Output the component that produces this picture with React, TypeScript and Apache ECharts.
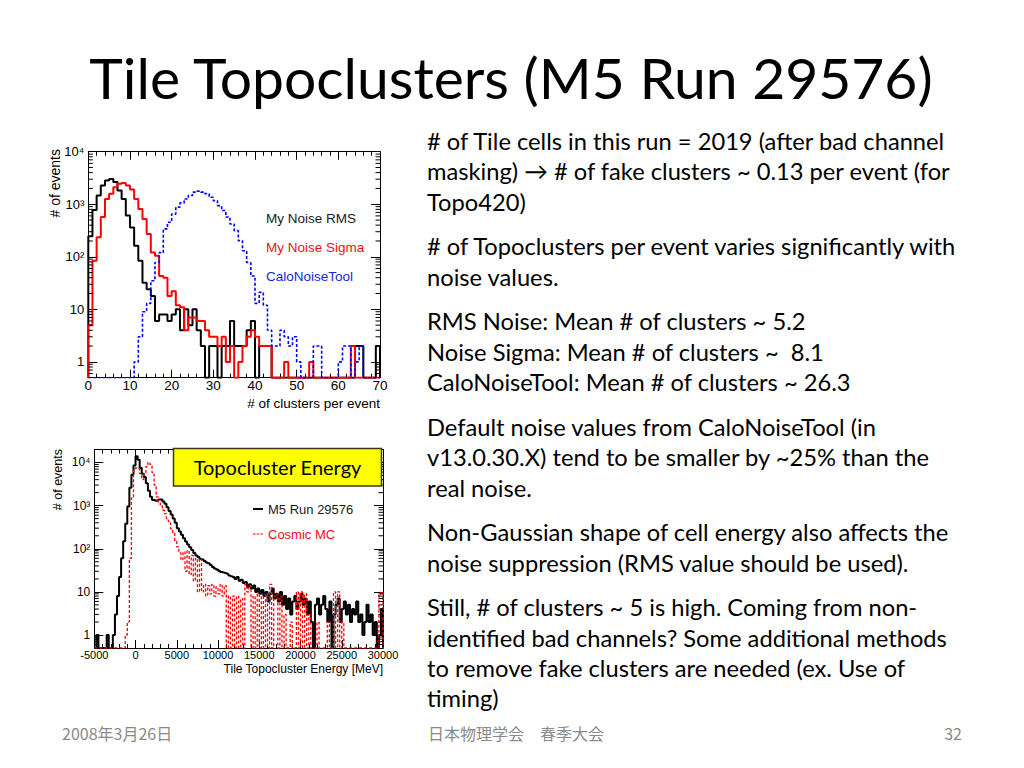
import React, { useEffect, useRef } from "react";
import * as echarts from "echarts";

// ---------- Chart 1: # of clusters per event (bins of width 1 from 0 to 70) ----------
const CLUSTER_BIN_START = 0;
const CLUSTER_BIN_WIDTH = 1;
const RMS_COUNTS = [
  245, 780, 1470, 2280, 2830, 3030, 2640, 1820, 1260, 610,
  360, 162, 84, 32, 24, 18, 6, 8, 8, 6,
  8, 10, 4, 10, 5, 10, 4, 2, 0, 2,
  2, 0, 2, 2, 6, 2, 2, 2, 4, 6,
  0, 2, 2, 2, 0, 0, 0, 0, 0, 0,
  0, 0, 0, 0, 0, 0, 0, 0, 0, 0,
  0, 0, 0, 0, 2, 2, 0, 0, 0, 2,
];
const SIGMA_COUNTS = [
  5, 84, 235, 570, 1260, 1580, 2100, 2450, 2550, 2280,
  1900, 1260, 815, 525, 270, 121, 105, 43, 40, 18,
  22, 12, 11, 4, 7, 7, 6, 6, 4, 3,
  3, 2, 3, 1, 2, 0, 1, 2, 3, 4,
  3, 2, 2, 2, 0, 0, 0, 1, 0, 0,
  0, 0, 0, 1, 0, 0, 0, 0, 0, 0,
  0, 0, 0, 2, 0, 0, 0, 0, 0, 0,
];
const CALO_COUNTS = [
  0, 0, 0, 0, 0, 0, 0, 0, 0, 0,
  0, 1, 3, 9, 13, 35, 78, 120, 340, 455,
  650, 880, 1060, 1260, 1470, 1700, 1780, 1700, 1590, 1360,
  1170, 940, 760, 570, 420, 315, 203, 130, 78, 43,
  13, 21, 12, 4, 2, 2, 4, 3, 2, 3,
  1, 0, 0, 0, 2, 2, 0, 0, 0, 0,
  1, 2, 2, 0, 1, 2, 0, 0, 0, 0,
];
const CLUSTER_SERIES_NAMES = ["My Noise RMS", "My Noise Sigma", "CaloNoiseTool"];

// ---------- Chart 2: Tile Topocluster Energy (bins of 250 MeV from -5000 to 30000) ----------
const ENERGY_BIN_START = -5000;
const ENERGY_BIN_WIDTH = 250;
const M5_COUNTS = [
  0, 1, 0, 0, 0, 0, 1, 0, 0, 1,
  3, 8, 22, 60, 150, 380, 950, 2600, 5200, 8500,
  14000, 11500, 7500, 5500, 4600, 3300, 2200, 1600, 1350, 1300,
  1320, 1380, 1380, 1250, 1100, 920, 750, 620, 500, 400,
  300, 250, 210, 175, 148, 126, 108, 93, 80, 70,
  64, 58, 56, 52, 48, 46, 42, 38, 35, 33,
  31, 29, 28, 27, 26, 24, 23, 22, 20, 22,
  18, 19, 16, 17, 13, 15, 12, 14, 10, 12,
  9, 11, 8, 10, 6, 9, 12, 7, 9, 6,
  10, 5, 8, 4, 7, 3, 6, 8, 4, 6,
  9, 5, 7, 3, 6, 2, 0, 5, 7, 3,
  5, 8, 4, 2, 6, 0, 3, 5, 7, 2,
  4, 6, 3, 5, 2, 4, 3, 6, 2, 3,
  1, 2, 5, 2, 3, 1, 2, 0, 1, 4,
];
const MC_COUNTS = [
  0, 0, 0, 0, 0, 0, 0, 0, 0, 0,
  0, 0, 0, 0, 0, 1, 2, 60, 1500, 6500,
  7500, 7200, 5500, 4000, 5500, 8000, 10000, 9000, 5800, 3000,
  1600, 1150, 1000, 780, 650, 460, 400, 290, 230, 150,
  110, 80, 55, 85, 30, 90, 25, 70, 18, 60,
  10, 60, 10, 15, 8, 14, 9, 15, 8, 13,
  9, 15, 8, 14, 0, 8, 0, 8, 0, 8,
  0, 7, 0, 15, 10, 14, 0, 8, 0, 9,
  0, 8, 0, 9, 0, 15, 0, 8, 9, 0,
  8, 0, 3, 0, 0, 2, 0, 0, 10, 0,
  10, 0, 9, 0, 3, 0, 0, 0, 2, 0,
  0, 0, 0, 2, 0, 0, 10, 0, 10, 0,
  2, 0, 0, 0, 0, 0, 0, 0, 0, 0,
  0, 0, 0, 0, 0, 0, 0, 0, 9, 10,
];
const ENERGY_SERIES_NAMES = ["M5 Run 29576", "Cosmic MC"];

// ---------- Slide texts ----------
const TITLE = "Tile Topoclusters (M5 Run 29576)";
const BODY_PARAGRAPHS = [
  ["# of Tile cells in this run = 2019 (after bad channel", "masking) \u2192 # of fake clusters ~ 0.13 per event (for", "Topo420)"],
  ["# of Topoclusters per event varies significantly with", "noise values."],
  ["RMS Noise: Mean # of clusters ~ 5.2", "Noise Sigma: Mean # of clusters ~  8.1", "CaloNoiseTool: Mean # of clusters ~ 26.3"],
  ["Default noise values from CaloNoiseTool (in", "v13.0.30.X) tend to be smaller by ~25% than the", "real noise."],
  ["Non-Gaussian shape of cell energy also affects the", "noise suppression (RMS value should be used)."],
  ["Still, # of clusters ~ 5 is high. Coming from non-", "identified bad channels? Some additional methods", "to remove fake clusters are needed (ex. Use of", "timing)"],
];
const FOOTER_DATE = "2008年3月26日";
const FOOTER_CENTER = "日本物理学会\u3000春季大会";
const FOOTER_PAGE = "32";
const BOX_LABEL = "Topocluster Energy";
const Y_TITLE = "# of events";
const X_TITLE_1 = "# of clusters per event";
const X_TITLE_2 = "Tile Topocluster Energy [MeV]";

const AX_FONT = "Liberation Sans";
const SLIDE_FONT = "Lato";
const CJK_FONT = "'Noto Sans CJK JP'";

function stepData(start: number, width: number, counts: number[], floor: number) {
  const pts: number[][] = [[start, floor]];
  counts.forEach((c, i) => pts.push([start + i * width, c > 0 ? c : floor]));
  const end = start + counts.length * width;
  const last = counts[counts.length - 1];
  pts.push([end, last > 0 ? last : floor]);
  pts.push([end, floor]);
  return pts;
}

const SUP: Record<string, string> = { "2": "\u00b2", "3": "\u00b3", "4": "\u2074", "5": "\u2075" };
function logLabel(v: number) {
  const k = Math.log10(v);
  const r = Math.round(k);
  if (Math.abs(k - r) > 1e-6 || r < 0) return "";
  if (r === 0) return "1";
  if (r === 1) return "10";
  return "10" + SUP[String(r)];
}

function logMinorValues(min: number, max: number) {
  const out: number[] = [];
  for (let k = -2; k <= 6; k++) {
    for (let m = 2; m <= 9; m++) {
      const v = m * Math.pow(10, k);
      if (v > min * 1.0001 && v < max * 0.9999) out.push(v);
    }
  }
  return out;
}

function xAxisDef(gridIndex: number, min: number, max: number, interval: number, pos: string, fontSize: number) {
  return {
    type: "value",
    gridIndex,
    position: pos,
    min,
    max,
    interval,
    axisLine: { show: true, onZero: false, lineStyle: { color: "#000", width: 1 } },
    axisTick: { show: true, inside: true, length: 8, lineStyle: { color: "#000", width: 1 } },
    minorTick: { show: true, splitNumber: 5, length: 4, lineStyle: { color: "#000", width: 1 } },
    splitLine: { show: false },
    minorSplitLine: { show: false },
    axisLabel: {
      show: pos === "bottom",
      color: "#000",
      fontFamily: AX_FONT,
      fontSize,
      margin: 1,
      showMinLabel: true,
      showMaxLabel: true,
      formatter: (v: number) => String(v),
    },
  };
}

function yAxisDef(gridIndex: number, min: number, max: number, pos: string, fontSize: number) {
  return {
    type: "log",
    logBase: 10,
    gridIndex,
    position: pos,
    min,
    max,
    axisLine: { show: true, onZero: false, lineStyle: { color: "#000", width: 1 } },
    axisTick: { show: true, inside: true, length: 9, lineStyle: { color: "#000", width: 1 } },
    minorTick: { show: false },
    splitLine: { show: false },
    axisLabel: {
      show: pos === "left",
      color: "#000",
      fontFamily: AX_FONT,
      fontSize,
      margin: 4,
      formatter: logLabel,
    },
  };
}

function minorTickSeries(xIdx: number, yIdx: number, xMin: number, yMin: number, yMax: number) {
  return {
    type: "custom",
    xAxisIndex: xIdx,
    yAxisIndex: yIdx,
    silent: true,
    clip: false,
    z: 5,
    data: logMinorValues(yMin, yMax).map((v) => [xMin, v]),
    renderItem: (params: any, api: any) => {
      const y = api.coord([api.value(0), api.value(1)])[1];
      const cs = params.coordSys;
      const st = { stroke: "#000", lineWidth: 1 };
      return {
        type: "group",
        children: [
          { type: "line", shape: { x1: cs.x, y1: y, x2: cs.x + 4.5, y2: y }, style: st },
          { type: "line", shape: { x1: cs.x + cs.width - 4.5, y1: y, x2: cs.x + cs.width, y2: y }, style: st },
        ],
      };
    },
  };
}

function txt(text: string, x: number, y: number, font: string, fill: string, align = "left", extra: any = {}) {
  return {
    type: "text",
    x,
    y,
    z: 50,
    ...extra,
    style: {
      text,
      font,
      fill,
      textAlign: align,
      align,
      textVerticalAlign: "middle",
      verticalAlign: "middle",
    },
  };
}

const DASH_ICON = "path://M0,0h2.6v1h-2.6zM3.7,0h2.6v1h-2.6zM7.4,0h2.6v1h-2.6z";

function buildOption() {
  const Y1_MIN = 0.5, Y1_MAX = 10000;
  const Y2_MIN = 0.5, Y2_MAX = 20000;

  const graphics: any[] = [];
  graphics.push(txt(TITLE, 511, 77, `57px ${SLIDE_FONT}`, "#000", "center"));

  const bodySize = 23.7;
  const lineGap = 30.4;
  const paraGap = 14.2;
  let base = 148.8;
  BODY_PARAGRAPHS.forEach((para, pi) => {
    if (pi > 0) base += paraGap;
    para.forEach((line) => {
      graphics.push(txt(line, 427, base - bodySize * 0.33, `${bodySize}px ${SLIDE_FONT}`, "#000", "left"));
      base += lineGap;
    });
  });

  graphics.push(txt(FOOTER_DATE, 62, 733, `16px ${CJK_FONT}`, "#8a8a8a", "left"));
  graphics.push(txt(FOOTER_CENTER, 516, 733, `16px ${CJK_FONT}`, "#8a8a8a", "center"));
  graphics.push(txt(FOOTER_PAGE, 962, 733, `16px ${CJK_FONT}`, "#8a8a8a", "right"));

  // axis titles (ROOT style: right / top aligned)
  graphics.push(txt(Y_TITLE, 55, 149, `14px ${AX_FONT}`, "#000", "right", { rotation: Math.PI / 2 }));
  graphics.push(txt(Y_TITLE, 58, 449, `12.5px ${AX_FONT}`, "#000", "right", { rotation: Math.PI / 2 }));
  graphics.push(txt(X_TITLE_1, 380, 403, `13.5px ${AX_FONT}`, "#000", "right"));
  graphics.push(txt(X_TITLE_2, 383, 669, `12px ${AX_FONT}`, "#000", "right"));

  // yellow label box
  graphics.push({
    type: "rect",
    z: 60,
    shape: { x: 173.5, y: 448.5, width: 208, height: 37.5 },
    style: { fill: "#ffff00", stroke: "#3a3a1a", lineWidth: 1.5 },
  });
  graphics.push(txt(BOX_LABEL, 277.5, 467, `20px ${SLIDE_FONT}`, "#000", "center", { z: 61 }));

  return {
    animation: false,
    backgroundColor: "#fff",
    grid: [
      { left: 88.3, top: 151.7, width: 291.7, height: 226, outerBoundsMode: "none", containLabel: false },
      { left: 94.3, top: 449.5, width: 288.7, height: 198.5, outerBoundsMode: "none", containLabel: false },
    ],
    xAxis: [
      xAxisDef(0, 0, 70, 10, "bottom", 13.5),
      xAxisDef(0, 0, 70, 10, "top", 13.5),
      xAxisDef(1, -5000, 30000, 5000, "bottom", 11),
      xAxisDef(1, -5000, 30000, 5000, "top", 11),
    ],
    yAxis: [
      yAxisDef(0, Y1_MIN, Y1_MAX, "left", 13),
      yAxisDef(0, Y1_MIN, Y1_MAX, "right", 13),
      yAxisDef(1, Y2_MIN, Y2_MAX, "left", 12),
      yAxisDef(1, Y2_MIN, Y2_MAX, "right", 12),
    ],
    legend: [
      {
        left: 255,
        top: 206,
        orient: "vertical",
        itemGap: 15,
        itemWidth: 0,
        itemHeight: 0,
        selectedMode: false,
        textStyle: { fontFamily: AX_FONT, fontSize: 13.5, lineHeight: 14 },
        data: [
          { name: CLUSTER_SERIES_NAMES[0], textStyle: { color: "#1a1a1a" } },
          { name: CLUSTER_SERIES_NAMES[1], textStyle: { color: "#f01010" } },
          { name: CLUSTER_SERIES_NAMES[2], textStyle: { color: "#1428e0" } },
        ],
      },
      {
        left: 248,
        top: 497,
        orient: "vertical",
        itemGap: 11,
        itemWidth: 10,
        itemHeight: 2,
        selectedMode: false,
        textStyle: { fontFamily: AX_FONT, fontSize: 13, lineHeight: 14 },
        data: [
          { name: ENERGY_SERIES_NAMES[0], icon: "rect", itemStyle: { color: "#000" }, textStyle: { color: "#1a1a1a" } },
          { name: ENERGY_SERIES_NAMES[1], icon: DASH_ICON, itemStyle: { color: "#ff0000" }, textStyle: { color: "#f01010" } },
        ],
      },
    ],
    series: [
      {
        name: CLUSTER_SERIES_NAMES[0],
        type: "line",
        xAxisIndex: 0,
        yAxisIndex: 0,
        step: "end",
        showSymbol: false,
        symbol: "none",
        data: stepData(CLUSTER_BIN_START, CLUSTER_BIN_WIDTH, RMS_COUNTS, Y1_MIN),
        lineStyle: { color: "#000", width: 2 },
        itemStyle: { color: "#000" },
        z: 3,
      },
      {
        name: CLUSTER_SERIES_NAMES[1],
        type: "line",
        xAxisIndex: 0,
        yAxisIndex: 0,
        step: "end",
        showSymbol: false,
        symbol: "none",
        data: stepData(CLUSTER_BIN_START, CLUSTER_BIN_WIDTH, SIGMA_COUNTS, Y1_MIN),
        lineStyle: { color: "#ff0000", width: 2 },
        itemStyle: { color: "#ff0000" },
        z: 4,
      },
      {
        name: CLUSTER_SERIES_NAMES[2],
        type: "line",
        xAxisIndex: 0,
        yAxisIndex: 0,
        step: "end",
        showSymbol: false,
        symbol: "none",
        data: stepData(CLUSTER_BIN_START, CLUSTER_BIN_WIDTH, CALO_COUNTS, Y1_MIN),
        lineStyle: { color: "#0000ff", width: 1.6, type: [3, 2] },
        itemStyle: { color: "#0000ff" },
        z: 4,
      },
      {
        name: ENERGY_SERIES_NAMES[0],
        type: "line",
        xAxisIndex: 2,
        yAxisIndex: 2,
        step: "end",
        showSymbol: false,
        symbol: "none",
        data: stepData(ENERGY_BIN_START, ENERGY_BIN_WIDTH, M5_COUNTS, Y2_MIN),
        lineStyle: { color: "#000", width: 2 },
        itemStyle: { color: "#000" },
        z: 3,
      },
      {
        name: ENERGY_SERIES_NAMES[1],
        type: "line",
        xAxisIndex: 2,
        yAxisIndex: 2,
        step: "end",
        showSymbol: false,
        symbol: "none",
        data: stepData(ENERGY_BIN_START, ENERGY_BIN_WIDTH, MC_COUNTS, Y2_MIN),
        lineStyle: { color: "#ff0000", width: 1.3, type: [3, 2] },
        itemStyle: { color: "#ff0000" },
        z: 4,
      },
      minorTickSeries(0, 0, 0, Y1_MIN, Y1_MAX),
      minorTickSeries(2, 2, -5000, Y2_MIN, Y2_MAX),
    ],
    graphic: graphics,
  };
}

export default function App() {
  const ref = useRef<HTMLDivElement>(null);
  useEffect(() => {
    if (!ref.current) return;
    const chart = echarts.init(ref.current, null, { renderer: "svg" });
    chart.setOption(buildOption() as any);
    return () => chart.dispose();
  }, []);
  return (
    <div
      ref={ref}
      style={{ position: "fixed", left: 0, top: 0, width: 1024, height: 768, background: "#fff" }}
    />
  );
}
